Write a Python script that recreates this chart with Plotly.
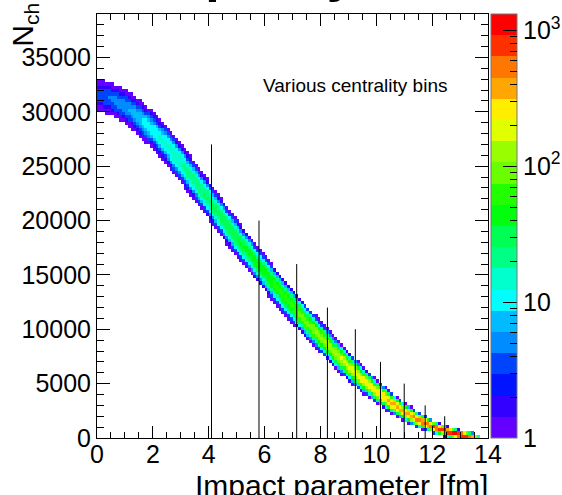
import colorsys
import math

import numpy as np
import plotly.graph_objects as go

# ---- band description of the Nch vs impact-parameter distribution ----
b_nodes = [0.0, 0.5, 1.0, 1.5, 2.0, 2.5, 3.0, 3.5, 4.0, 4.5, 5.0, 5.5, 6.0, 6.5,
           7.0, 7.5, 8.0, 8.5, 9.0, 9.5, 10.0, 10.5, 11.0, 11.5, 12.0, 12.5,
           13.0, 13.25, 13.5, 13.6, 13.7]
nch_mean = [31600, 31200, 30500, 29500, 28300, 26900, 25300, 23600, 21900, 20100,
            18400, 16800, 15200, 13600, 12100, 10700, 9300, 7900, 6600, 5400,
            4300, 3300, 2400, 1650, 1050, 600, 300, 200, 130, 100, 80]
nch_sigma = [700, 700, 700, 720, 720, 710, 690, 660, 630, 610, 590, 570, 550, 530,
             510, 480, 450, 420, 390, 350, 310, 270, 230, 190, 150, 115, 90, 80,
             70, 65, 60]
events_per_column = [22, 28, 36, 50, 68, 86, 104, 125, 145, 165, 185, 205, 225,
                     260, 300, 370, 450, 530, 620, 690, 760, 810, 860, 920, 1000,
                     1100, 1250, 900, 200, 30, 0]

# centrality-bin boundaries (impact parameter) and the height of each marker line
cut_b = [4.1, 5.8, 7.15, 8.25, 9.25, 10.15, 11.0, 11.75, 12.45]
cut_top = [27000, 20000, 16000, 12000, 10000, 7000, 5000, 3000, 2000]

# histogram binning
b_edges = np.arange(0.0, 14.0 + 1e-9, 0.1)
n_edges = np.arange(0.0, 39000 + 1e-9, 300.0)
z_top = 3.12  # log10 of the colour-scale maximum

# ---- fill the 2D histogram ----
b_c = 0.5 * (b_edges[:-1] + b_edges[1:])
n_c = 0.5 * (n_edges[:-1] + n_edges[1:])
mu = np.interp(b_c, b_nodes, nch_mean)
sg = np.interp(b_c, b_nodes, nch_sigma)
nev = np.interp(b_c, b_nodes, events_per_column)

erf = np.vectorize(math.erf)
lo = (n_edges[:-1][:, None] - mu[None, :]) / (sg[None, :] * math.sqrt(2))
hi = (n_edges[1:][:, None] - mu[None, :]) / (sg[None, :] * math.sqrt(2))
counts = np.round(nev[None, :] * 0.5 * (erf(hi) - erf(lo)))
z = np.where(counts >= 1, np.log10(np.maximum(counts, 1)), np.nan)

# ---- ROOT "pretty" palette, 20 contour levels ----
ncol, ncont = 50, 20
pal = []
for i in range(ncol):
    hue = 280.0 - (i + 1) * (280.0 / ncol)
    r, g, bl = colorsys.hls_to_rgb(hue / 360.0, 0.5, 1.0)
    pal.append("rgb(%d,%d,%d)" % (round(r * 255), round(g * 255), round(bl * 255)))
bands = [pal[int((k + 0.99) * ncol / ncont)] for k in range(ncont)]
cscale = []
for k, c in enumerate(bands):
    cscale.append([k / ncont, c])
    cscale.append([(k + 1) / ncont, c])

FONT = "Liberation Sans, Arial, Helvetica, sans-serif"
W, H = 562, 495
ML, MR, MT, MB = 97, 74, 14, 57
plot_w = W - ML - MR
plot_h = H - MT - MB

# colour bar just right of the frame, spanning the full frame height
cb_common = dict(
    x=1 + 3 / plot_w, xanchor="left", xpad=0,
    y=0.5, yanchor="middle", ypad=0,
    len=1, lenmode="fraction", thickness=26,
)

fig = go.Figure()
fig.add_trace(go.Heatmap(
    x=b_c, y=n_c, z=z, zmin=0, zmax=z_top, colorscale=cscale, zsmooth=False,
    hoverongaps=False,
    colorbar=dict(
        **cb_common,
        outlinewidth=1, outlinecolor="#777",
        tickmode="array", tickvals=[0, 1, 2, 3],
        ticktext=["1", "10", "10<sup>2</sup>", "10<sup>3</sup>"],
        ticks="inside", ticklen=14, tickwidth=1, tickcolor="black",
        tickfont=dict(family=FONT, size=25, color="black"),
    ),
))

# minor ticks of the logarithmic colour scale
minor_vals = [k + math.log10(m) for k in range(3) for m in range(2, 10)]
fig.add_trace(go.Scatter(
    x=[None], y=[None], mode="markers", showlegend=False, hoverinfo="skip",
    marker=dict(
        color=[0], cmin=0, cmax=z_top, showscale=True,
        colorscale=[[0, "rgba(0,0,0,0)"], [1, "rgba(0,0,0,0)"]],
        colorbar=dict(
            **cb_common, outlinewidth=0,
            tickmode="array", tickvals=minor_vals, showticklabels=False,
            ticks="inside", ticklen=7, tickwidth=1, tickcolor="black",
        ),
    ),
))

# centrality-bin marker lines
lx, ly = [], []
for bv, top in zip(cut_b, cut_top):
    lx += [bv, bv, None]
    ly += [0, top, None]
fig.add_trace(go.Scatter(x=lx, y=ly, mode="lines", showlegend=False,
                         line=dict(color="black", width=1), hoverinfo="skip"))

axis_common = dict(
    ticks="inside", mirror="allticks", showline=True, linecolor="black",
    linewidth=1, tickcolor="black", tickwidth=1, showgrid=False, zeroline=False,
    tickfont=dict(family=FONT, size=25, color="black"), automargin=False,
)
fig.update_xaxes(range=[0, 14], tickmode="linear", tick0=0, dtick=2, ticklen=12,
                 ticklabelstandoff=-6,
                 minor=dict(dtick=0.5, ticklen=6, ticks="inside",
                            tickcolor="black", showgrid=False),
                 **axis_common)
fig.update_yaxes(range=[0, 39000], tickmode="linear", tick0=0, dtick=5000,
                 ticklen=13, tickformat="d",
                 minor=dict(dtick=1000, ticklen=7, ticks="inside",
                            tickcolor="black", showgrid=False),
                 **axis_common)

fig.add_annotation(text="Impact parameter [fm]", xref="paper", yref="paper",
                   x=1.005, y=-0.112, xanchor="right", yanchor="middle",
                   showarrow=False, font=dict(family=FONT, size=30, color="black"))
fig.add_annotation(text="N<sub>ch</sub>", xref="paper", yref="paper",
                   x=-0.185, y=1 + 13 / plot_h, xanchor="center", yanchor="top",
                   textangle=-90, showarrow=False,
                   font=dict(family=FONT, size=30, color="black"))
fig.add_annotation(text="Various centrality bins", xref="paper", yref="paper",
                   x=(355 - ML) / plot_w, y=1 - (85 - 13.5) / plot_h,
                   xanchor="center", yanchor="middle", showarrow=False,
                   font=dict(family=FONT, size=19, color="black"))
fig.add_annotation(text="<b>Multiplicity</b>", xref="paper", yref="paper",
                   x=(220 - ML) / plot_w, y=1 + 41 / plot_h,
                   xanchor="center", yanchor="middle", showarrow=False,
                   font=dict(family=FONT, size=52, color="black"))

fig.update_layout(
    width=W, height=H, margin=dict(l=ML, r=MR, t=MT, b=MB, autoexpand=False),
    paper_bgcolor="white", plot_bgcolor="white", showlegend=False,
)

fig.write_html("out.html")
